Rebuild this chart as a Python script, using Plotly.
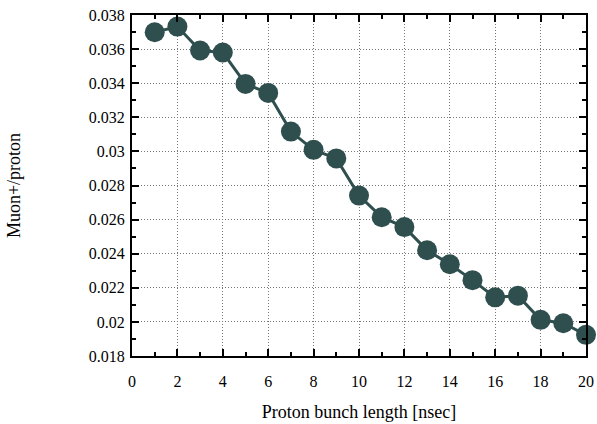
import plotly.graph_objects as go

bunch_length = [1, 2, 3, 4, 5, 6, 7, 8, 9, 10, 11, 12, 13, 14, 15, 16, 17, 18, 19, 20]
muon_per_proton = [0.03699, 0.03732, 0.03592, 0.03580, 0.03396, 0.03343, 0.03116, 0.03009,
                   0.02959, 0.02741, 0.02614, 0.02556, 0.02420, 0.02338, 0.02245, 0.02144,
                   0.02154, 0.02012, 0.01992, 0.01924]

color = "#2F4F4F"
font_family = "Liberation Serif, Times New Roman, serif"

fig = go.Figure()
fig.add_trace(go.Scatter(
    x=bunch_length, y=muon_per_proton, mode="lines+markers",
    line=dict(color=color, width=3),
    marker=dict(color=color, size=20),
    cliponaxis=False, showlegend=False,
))

axis_common = dict(
    showline=True, linecolor="black", linewidth=2, mirror="allticks",
    ticks="inside", ticklen=7, tickwidth=1.5, tickcolor="black",
    showgrid=True, gridcolor="#777777", griddash="1px,2px", gridwidth=1,
    zeroline=False, automargin=False,
    tickfont=dict(family=font_family, size=16, color="black"),
)

fig.update_xaxes(
    range=[0, 20], dtick=2, tick0=0, ticklabelstandoff=10,
    minor=dict(dtick=1, ticks="inside", ticklen=4, tickcolor="black", showgrid=False),
    title=dict(text="Proton bunch length [nsec]", font=dict(family=font_family, size=18, color="black"), standoff=16),
    **axis_common,
)
fig.update_yaxes(
    range=[0.018, 0.038], dtick=0.002, tick0=0.018, ticklabelstandoff=2,
    minor=dict(dtick=0.001, ticks="inside", ticklen=4, tickcolor="black", showgrid=False),
    tickformat="~g",
    title=dict(text="Muon+/proton", font=dict(family=font_family, size=18, color="black"), standoff=63),
    **axis_common,
)

fig.update_layout(
    width=597, height=424,
    margin=dict(l=132, r=11, t=15, b=68),
    plot_bgcolor="white", paper_bgcolor="white",
)

fig.write_html("out.html")
